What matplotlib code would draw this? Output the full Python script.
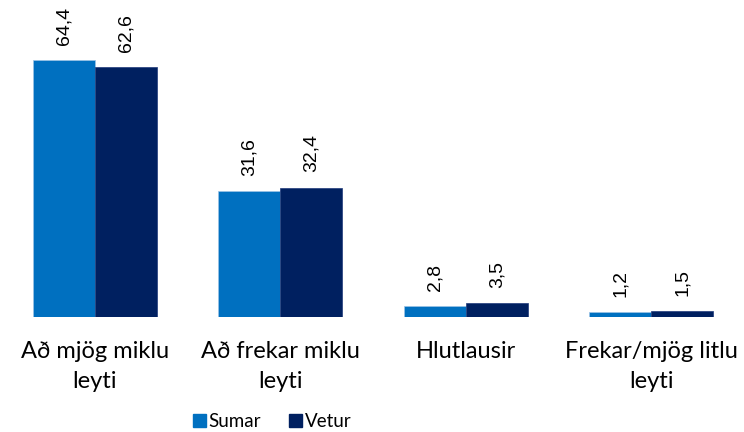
import numpy as np
import matplotlib.pyplot as plt
from matplotlib.patches import Patch

categories = ["Að mjög miklu\nleyti", "Að frekar miklu\nleyti", "Hlutlausir", "Frekar/mjög litlu\nleyti"]
sumar = [64.4, 31.6, 2.8, 1.2]
vetur = [62.6, 32.4, 3.5, 1.5]
series_names = ["Sumar", "Vetur"]
colors = ["#0070C0", "#002060"]

fig = plt.figure(figsize=(7.44, 4.32), dpi=100)
ax = fig.add_axes([0.003, 0.266, 0.997, 0.734])

x = np.arange(len(categories))
w = 0.334
for vals, off, col in [(sumar, -w / 2, colors[0]), (vetur, w / 2, colors[1])]:
    bars = ax.bar(x + off, vals, w, color=col, edgecolor="#9DC3E6" if col == colors[0] else "#1F3A7A", linewidth=0.5)
    for b, v in zip(bars, vals):
        ax.annotate(f"{v:.1f}".replace(".", ","), (b.get_x() + b.get_width() / 2, v),
                    xytext=(0, 11), textcoords="offset points", rotation=90,
                    ha="center", va="bottom", fontsize=14, family="Liberation Sans")

ax.set_xlim(-0.5, len(categories) - 0.5)
ax.set_ylim(0, 79.4)
ax.set_yticks([])
ax.set_xticks([])
# category labels, each line centred on its own
for xi, cat in zip(x, categories):
    for i, line in enumerate(cat.split("\n")):
        ax.annotate(line, (xi, 0), xycoords=ax.get_xaxis_transform(),
                    xytext=(0, -17 - i * 21.6), textcoords="offset points",
                    ha="center", va="top", fontsize=17, family="Lato")
for s in ax.spines.values():
    s.set_visible(False)

handles = [Patch(color=c) for c in colors]
fig.legend(handles, series_names, loc="center", bbox_to_anchor=(0.366, 0.024), ncol=2,
           frameon=False, prop={"family": "Lato", "size": 13.5}, handlelength=0.7,
           handleheight=0.75, handletextpad=0.15, columnspacing=1.5)

fig.savefig("out.png", dpi=100)
